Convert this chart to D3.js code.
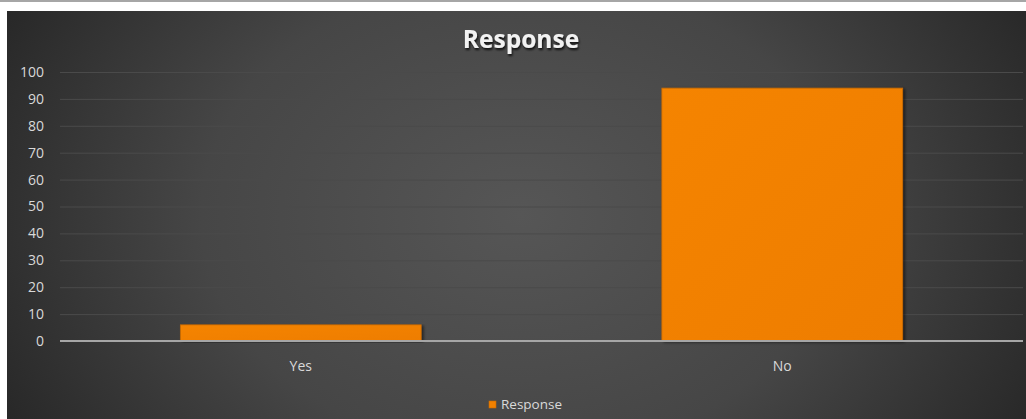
<!DOCTYPE html>
<html>
<head>
<meta charset="utf-8">
<script src="https://cdn.jsdelivr.net/npm/d3@7/dist/d3.min.js"></script>
<style>
  html, body { margin: 0; padding: 0; background: #ffffff; }
  svg { display: block; }
</style>
</head>
<body>
<div id="chart"></div>
<script>
const categories = ["Yes", "No"];
const responseValues = [6, 94];
const yTicks = [0, 10, 20, 30, 40, 50, 60, 70, 80, 90, 100];
const seriesName = "Response";
const chartTitle = "Response";

const W = 1026, H = 419;
const panel = { x: 7, y: 11, w: W - 7, h: H - 11 };
const plot = { left: 60, right: 1023, top: 72, bottom: 341 };
const FONT = "'Open Sans', 'Noto Sans', sans-serif";

const svg = d3.select("#chart").append("svg")
  .attr("width", W).attr("height", H);

const defs = svg.append("defs");
const bg = defs.append("radialGradient").attr("id", "bgGrad")
  .attr("gradientUnits", "userSpaceOnUse")
  .attr("cx", 520).attr("cy", 215).attr("r", 580)
  .attr("gradientTransform", "translate(520,215) scale(1,0.75) translate(-520,-215)");
bg.append("stop").attr("offset", "0%").attr("stop-color", "#565656");
bg.append("stop").attr("offset", "55%").attr("stop-color", "#464646");
bg.append("stop").attr("offset", "100%").attr("stop-color", "#282828");

const barGrad = defs.append("linearGradient").attr("id", "barGrad")
  .attr("x1", 0).attr("y1", 0).attr("x2", 1).attr("y2", 1);
barGrad.append("stop").attr("offset", "0%").attr("stop-color", "#f58402");
barGrad.append("stop").attr("offset", "100%").attr("stop-color", "#ee7d00");

const shadow = defs.append("filter").attr("id", "barShadow")
  .attr("x", "-5%").attr("y", "-5%").attr("width", "115%").attr("height", "115%");
shadow.append("feDropShadow").attr("dx", 2).attr("dy", 1).attr("stdDeviation", 1.5)
  .attr("flood-color", "#000").attr("flood-opacity", 0.55);

const titleShadow = defs.append("filter").attr("id", "titleShadow")
  .attr("x", "-10%").attr("y", "-20%").attr("width", "130%").attr("height", "160%");
titleShadow.append("feDropShadow").attr("dx", 1).attr("dy", 2).attr("stdDeviation", 1.2)
  .attr("flood-color", "#000").attr("flood-opacity", 0.8);

// top rule above the panel
svg.append("rect").attr("x", 0).attr("y", 0).attr("width", W).attr("height", 2).attr("fill", "#a6a6a6");

// dark panel
svg.append("rect").attr("x", panel.x).attr("y", panel.y)
  .attr("width", panel.w).attr("height", panel.h).attr("fill", "url(#bgGrad)");

const x = d3.scaleBand().domain(categories)
  .range([plot.left, plot.right]).paddingInner(0.5).paddingOuter(0.25);
const y = d3.scaleLinear().domain([0, 100]).range([plot.bottom, plot.top]);

// gridlines
svg.append("g").selectAll("line").data(yTicks.filter(d => d > 0)).join("line")
  .attr("x1", plot.left).attr("x2", plot.right)
  .attr("y1", d => y(d) + 0.5).attr("y2", d => y(d) + 0.5)
  .attr("stroke", "#4a4a4a").attr("stroke-width", 1);

// y axis labels
const yAxis = d3.axisLeft(y).tickValues(yTicks).tickSize(0).tickPadding(0);
const yg = svg.append("g").attr("transform", `translate(${plot.left - 16},0)`).call(yAxis);
yg.select(".domain").remove();
yg.selectAll("text").attr("fill", "#d9d9d9")
  .style("font-family", FONT).style("font-size", "14px");

// bars
svg.append("g").selectAll("rect").data(categories).join("rect")
  .attr("x", d => x(d))
  .attr("width", x.bandwidth())
  .attr("y", (d, i) => y(responseValues[i]))
  .attr("height", (d, i) => y(0) - y(responseValues[i]))
  .attr("fill", "url(#barGrad)")
  .attr("stroke", "#c86a00").attr("stroke-width", 0.8)
  .attr("filter", "url(#barShadow)");

// category axis
const xAxis = d3.axisBottom(x).tickSize(0).tickPadding(20);
const xg = svg.append("g").attr("transform", `translate(0,${plot.bottom})`).call(xAxis);
xg.select(".domain").attr("stroke", "#a6a6a6").attr("stroke-width", 2)
  .attr("d", `M${plot.left},0H${plot.right}`);
xg.selectAll("text").attr("fill", "#d9d9d9")
  .style("font-family", FONT).style("font-size", "14px");

// title
svg.append("text").attr("x", 521).attr("y", 48).attr("text-anchor", "middle")
  .attr("fill", "#f2f2f2").attr("filter", "url(#titleShadow)")
  .style("font-family", FONT)
  .style("font-weight", "bold").style("font-size", "24.5px")
  .text(chartTitle);

// legend
const lg = svg.append("g").attr("transform", "translate(489,401)");
lg.append("rect").attr("x", 0).attr("y", 0).attr("width", 7).attr("height", 7)
  .attr("fill", "#f28100").attr("stroke", "#c86a00").attr("stroke-width", 0.6);
lg.append("text").attr("x", 12).attr("y", 3.5).attr("dy", "0.35em")
  .attr("fill", "#d9d9d9")
  .style("font-family", FONT).style("font-size", "13.5px")
  .text(seriesName);
</script>
</body>
</html>
